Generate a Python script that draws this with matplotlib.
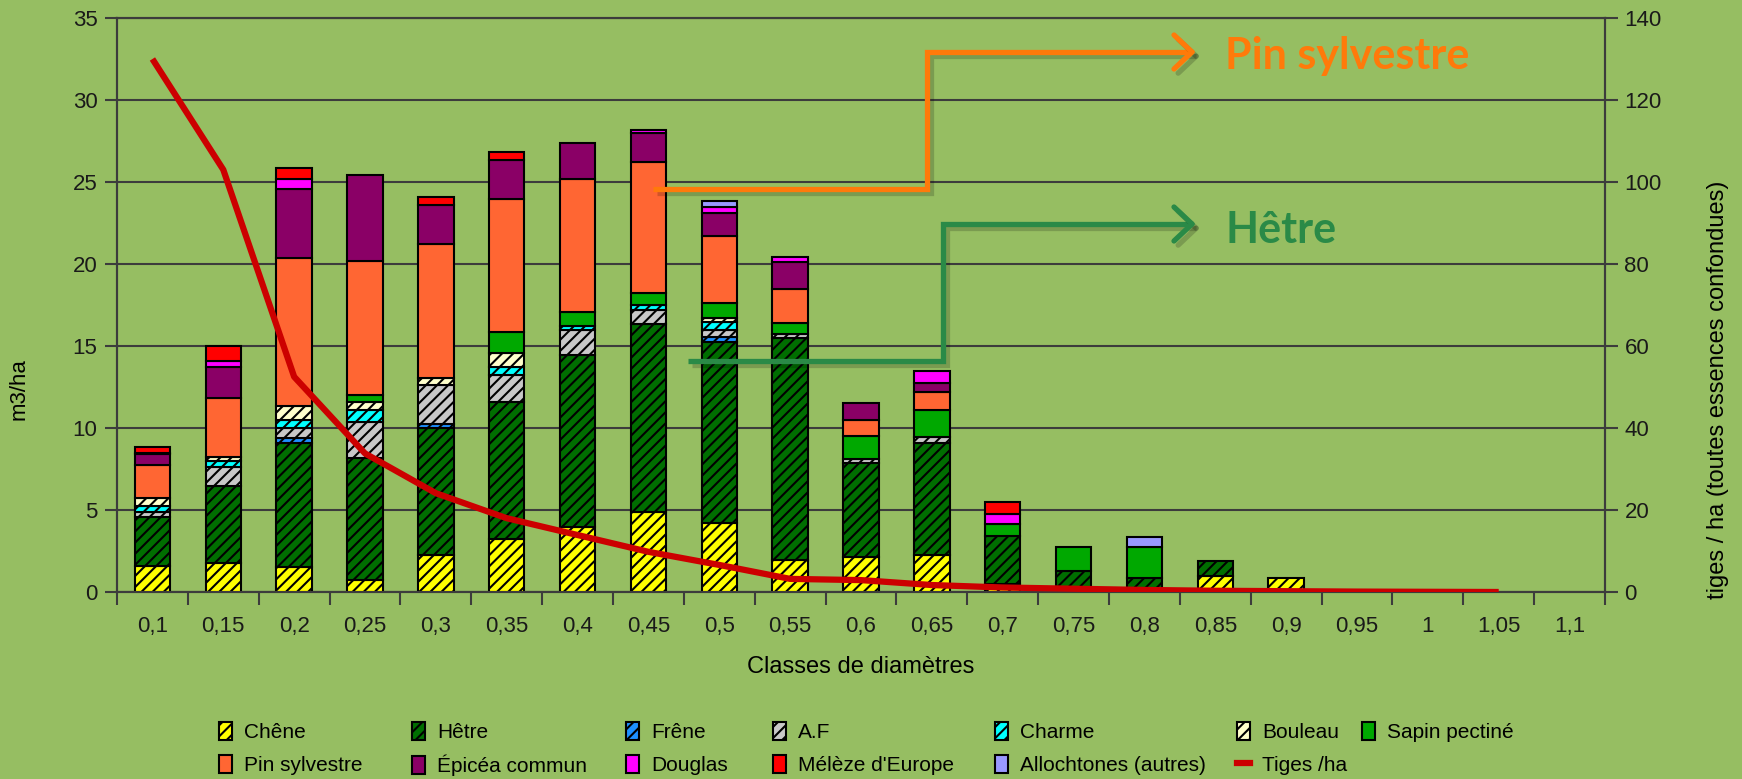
import numpy as np
import matplotlib
matplotlib.use("Agg")
import matplotlib.pyplot as plt
import matplotlib.patheffects as pe
from matplotlib.lines import Line2D

plt.rcParams['font.family'] = ['Liberation Sans', 'DejaVu Sans']
plt.rcParams['hatch.linewidth'] = 1.5

# classes de diamètres
classes = ['0,1', '0,15', '0,2', '0,25', '0,3', '0,35', '0,4', '0,45', '0,5', '0,55', '0,6',
           '0,65', '0,7', '0,75', '0,8', '0,85', '0,9', '0,95', '1', '1,05', '1,1']

# m3/ha par essence
chene = [1.6, 1.75, 1.5, 0.73, 2.26, 3.23, 3.98, 4.86, 4.23, 1.95, 2.11, 2.26, 0.47, 0, 0, 0.98, 0.87, 0, 0, 0, 0]
hetre = [3.0, 4.73, 7.6, 7.42, 7.72, 8.37, 10.47, 11.48, 10.99, 13.52, 5.74, 6.84, 2.94, 1.3, 0.87, 0.91, 0, 0, 0, 0, 0]
frene = [0, 0, 0.27, 0, 0.26, 0, 0, 0, 0.35, 0, 0, 0, 0, 0, 0, 0, 0, 0, 0, 0, 0]
af = [0.3, 1.12, 0.6, 2.23, 2.38, 1.63, 1.53, 0.86, 0.41, 0.24, 0.24, 0.37, 0, 0, 0, 0, 0, 0, 0, 0, 0]
charme = [0.35, 0.4, 0.5, 0.72, 0, 0.51, 0.24, 0.3, 0.5, 0, 0, 0, 0, 0, 0, 0, 0, 0, 0, 0, 0]
bouleau = [0.5, 0.25, 0.9, 0.47, 0.41, 0.86, 0, 0, 0.21, 0, 0, 0, 0, 0, 0, 0, 0, 0, 0, 0, 0]
sapin = [0, 0, 0, 0.43, 0, 1.27, 0.87, 0.71, 0.91, 0.67, 1.42, 1.63, 0.72, 1.46, 1.89, 0, 0, 0, 0, 0, 0]
pin = [2.0, 3.6, 9.0, 8.2, 8.17, 8.09, 8.09, 7.99, 4.1, 2.1, 0.98, 1.11, 0, 0, 0, 0, 0, 0, 0, 0, 0]
epicea = [0.65, 1.9, 4.2, 5.2, 2.4, 2.38, 2.18, 1.77, 1.39, 1.62, 1.01, 0.55, 0, 0, 0, 0, 0, 0, 0, 0, 0]
douglas = [0.1, 0.34, 0.6, 0, 0, 0, 0, 0.23, 0.41, 0.35, 0, 0.74, 0.63, 0, 0, 0, 0, 0, 0, 0, 0]
meleze = [0.35, 0.88, 0.7, 0, 0.5, 0.51, 0, 0, 0, 0, 0, 0, 0.75, 0, 0, 0, 0, 0, 0, 0, 0]
alloch = [0, 0, 0, 0, 0, 0, 0, 0, 0.36, 0, 0, 0, 0, 0, 0.61, 0, 0, 0, 0, 0, 0]

# tiges / ha (toutes essences confondues)
tiges = [130, 103, 52.5, 33.8, 24.1, 18, 13.9, 9.8, 6.6, 3.2, 2.9, 1.7, 1.1, 0.8, 0.5, 0.3, 0.2, 0.1, 0.05, 0, np.nan]

series = [
    ('Chêne', chene, '#FFFF00', '///'),
    ('Hêtre', hetre, '#006E00', '///'),
    ('Frêne', frene, '#1E90FF', '///'),
    ('A.F', af, '#C8C8C8', '///'),
    ('Charme', charme, '#00FFFF', '///'),
    ('Bouleau', bouleau, '#FFFFCC', '///'),
    ('Sapin pectiné', sapin, '#00A800', None),
    ('Pin sylvestre', pin, '#FF6633', None),
    ('Épicéa commun', epicea, '#8A0066', None),
    ('Douglas', douglas, '#FF00FF', None),
    ("Mélèze d'Europe", meleze, '#FF0000', None),
    ('Allochtones (autres)', alloch, '#9999FF', None),
]

bg = '#96BE62'
W, H = 1742, 779
fig = plt.figure(figsize=(W / 100, H / 100), dpi=100, facecolor=bg)
ax = fig.add_axes([117 / W, 1 - 592 / H, (1605 - 117) / W, (592 - 18) / H])
ax.set_facecolor(bg)

x = np.arange(len(classes))
bottom = np.zeros(len(classes))
handles = []
for name, vals, col, hat in series:
    v = np.array(vals, dtype=float)
    m = v > 0
    ax.bar(x[m], v[m], bottom=bottom[m], width=0.5, color=col, edgecolor='black',
           linewidth=1.5, hatch=hat, zorder=3)
    handles.append(plt.Rectangle((0, 0), 1, 1, facecolor=col, edgecolor='black',
                                 linewidth=1.5, hatch=hat))
    bottom += v

ax.set_xlim(-0.5, len(classes) - 0.5)
ax.set_ylim(0, 35)
ax.set_yticks(np.arange(0, 36, 5))
ax.grid(axis='y', color='#3C3C3C', linewidth=1.5, zorder=0)
ax.set_axisbelow(True)
ax.set_xticks(x)
ax.set_xticklabels(classes)
ax.set_xticks(np.arange(-0.5, len(classes), 1), minor=True)
ax.tick_params(axis='x', which='major', length=0, pad=17, labelsize=16, colors='#1a1a1a')
ax.tick_params(axis='x', which='minor', length=9, width=1.5, color='#3C3C3C')
ax.tick_params(axis='y', length=9, width=1.5, color='#3C3C3C', pad=5, labelsize=16, labelcolor='#1a1a1a')
for s in ax.spines.values():
    s.set_color('#3C3C3C')
    s.set_linewidth(1.5)
ax.set_xlabel('Classes de diamètres', fontsize=17, labelpad=14)
ax.set_ylabel('m3/ha', fontsize=16)
ax.yaxis.set_label_coords(30 / W, 0.5, transform=fig.transFigure)

ax2 = ax.twinx()
ax2.set_ylim(0, 140)
ax2.set_yticks(np.arange(0, 141, 20))
ln, = ax2.plot(x, tiges, color='#CC0000', linewidth=4.5, solid_capstyle='butt', zorder=5)
ax2.tick_params(axis='y', length=9, width=1.5, color='#3C3C3C', pad=5, labelsize=16, labelcolor='#1a1a1a')
for s in ax2.spines.values():
    s.set_color('#3C3C3C')
    s.set_linewidth(1.5)
ax2.set_ylabel('tiges / ha (toutes essences confondues)', fontsize=17)
ax2.yaxis.set_label_coords(1707 / W, 0.5, transform=fig.transFigure)

handles.append(Line2D([0], [0], color='#CC0000', linewidth=4.5))
labels = [s[0] for s in series] + ['Tiges /ha']

# legend: two rows, columns placed like the original
columns = [[0, 7], [1, 8], [2, 9], [3, 10], [4, 11], [5, 12], [6]]
col_x = [219, 412, 626, 773, 995, 1237, 1362]
for idx, cx in zip(columns, col_x):
    fig.legend([handles[i] for i in idx], [labels[i] for i in idx],
               loc='upper left', bbox_to_anchor=(cx / W, 1 - 722 / H), frameon=False,
               fontsize=15, handlelength=0.6, handleheight=0.95, handletextpad=0.6,
               labelspacing=0.6, borderpad=0, borderaxespad=0)

# annotations with arrows
shadow = [pe.SimpleLineShadow(offset=(3, -3), shadow_color='black', alpha=0.18), pe.Normal()]


def px(xp, yp):
    return xp / W, 1 - yp / H


def arrow_path(pts, col):
    xs, ys = zip(*[px(a, b) for a, b in pts])
    fig.add_artist(Line2D(xs, ys, color=col, linewidth=3.8, transform=fig.transFigure,
                          solid_joinstyle='miter', solid_capstyle='butt', path_effects=shadow))
    tip = px(*pts[-1])
    for dy in (-17, 17):
        a = px(pts[-1][0] - 18, pts[-1][1] + dy)
        fig.add_artist(Line2D([a[0], tip[0]], [a[1], tip[1]], color=col, linewidth=3.8,
                              transform=fig.transFigure, solid_capstyle='round',
                              path_effects=shadow))


arrow_path([(653, 189), (927, 189), (927, 52), (1192, 52)], '#FF7A0A')
arrow_path([(688, 361), (943, 361), (943, 224), (1192, 224)], '#2A8A47')
fig.text(1225 / W, 1 - 56 / H, 'Pin sylvestre', color='#FF7A0A', fontsize=31,
         fontweight='bold', family='Lato', va='center', ha='left')
fig.text(1225 / W, 1 - 230 / H, 'Hêtre', color='#2A8A47', fontsize=31,
         fontweight='bold', family='Lato', va='center', ha='left')

fig.savefig('out.png', dpi=100, facecolor=bg)
